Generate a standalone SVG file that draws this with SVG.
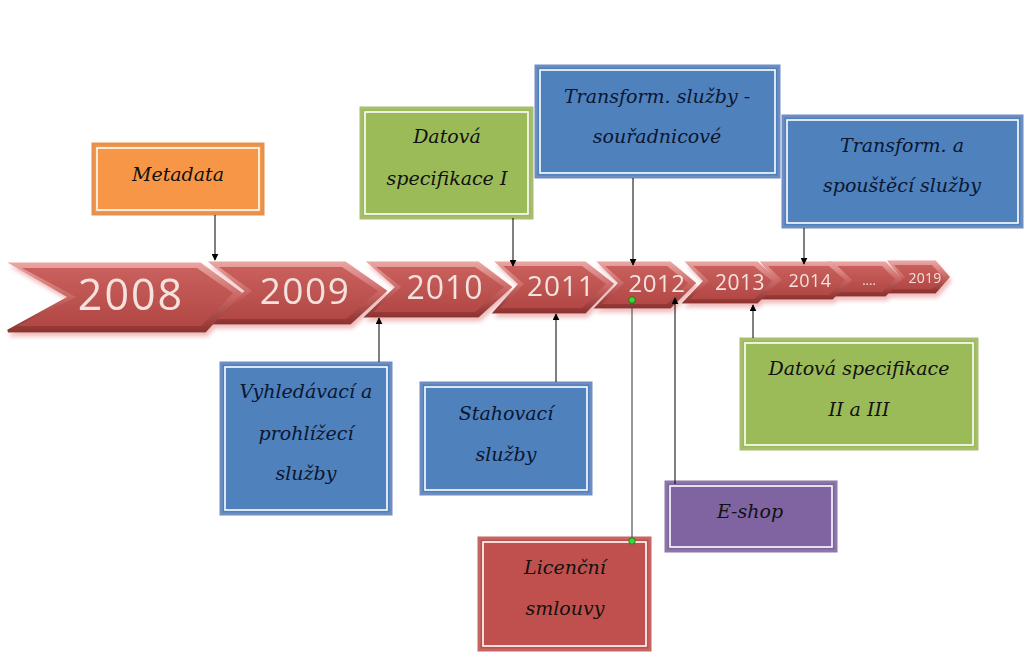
<svg xmlns="http://www.w3.org/2000/svg" width="1024" height="653" viewBox="0 0 1024 653">
<defs>
<linearGradient id="chev" x1="0" y1="0" x2="0" y2="1">
<stop offset="0" stop-color="#C9605D"/>
<stop offset="1" stop-color="#B24845"/>
</linearGradient>
<linearGradient id="bevel" x1="0" y1="0" x2="0" y2="1">
<stop offset="0" stop-color="#E9A3A1"/>
<stop offset="0.5" stop-color="#C96562"/>
<stop offset="1" stop-color="#8E3331"/>
</linearGradient>
<marker id="arr" viewBox="0 0 10 10" refX="9" refY="5" markerWidth="7" markerHeight="7" orient="auto" markerUnits="userSpaceOnUse">
<path d="M0,0 L10,5 L0,10 z" fill="#000"/>
</marker>
<filter id="sh" x="-10%" y="-20%" width="130%" height="160%">
<feGaussianBlur in="SourceAlpha" stdDeviation="2"/>
<feOffset dx="2" dy="4" result="b"/>
<feFlood flood-color="#E8A0A0" flood-opacity="0.7"/>
<feComposite in2="b" operator="in"/>
<feMerge><feMergeNode/><feMergeNode in="SourceGraphic"/></feMerge>
</filter>
</defs>
<style>
.outer{stroke:url(#bevel);stroke-width:3;fill:url(#bevel)}
.inner{fill:url(#chev)}
.yr{font-family:"Open Sans","Liberation Sans",sans-serif;fill:#F4E2DF;text-anchor:middle}
.box{stroke-width:3}
.inl{fill:none;stroke:#FFFFFF;stroke-width:1.6}
.lbl{font-family:"DejaVu Serif","Liberation Serif",serif;font-style:italic;font-size:19px;text-anchor:middle;fill:#111111}
.lblb{fill:#0B1630}
.con{stroke:#000;stroke-width:1;fill:none}
</style>
<rect width="1024" height="653" fill="#FFFFFF"/>

<g id="timeline" filter="url(#sh)">
<g id="y2019">
<polygon class="outer" points="890,262 935,262 948,277 935,292 888,292 902,277"/>
<polygon class="inner" points="894,265 932,265 943,277 932,289 893,289 905,277"/>
<text class="yr" x="925" y="283" font-size="14" letter-spacing="0.3">2019</text>
</g>
<g id="ydots">
<polygon class="outer" points="830,263 885,263 900,279 885,295 828,295 843,279"/>
<polygon class="inner" points="835,266 882,266 895,279 882,292 833,292 847,279"/>
<text class="yr" x="869" y="285" font-size="13">....</text>
</g>
<g id="y2014">
<polygon class="outer" points="763,263 832,263 850,280 832,298 760,298 778,280"/>
<polygon class="inner" points="768,266 829,266 845,280 829,295 765,295 782,280"/>
<text class="yr" x="810" y="287" font-size="18" letter-spacing="0.5">2014</text>
</g>
<g id="y2013">
<polygon class="outer" points="688,263 757,263 777,281 757,302 685,302 705,281"/>
<polygon class="inner" points="693,266 754,266 772,281 754,299 690,299 709,281"/>
<text class="yr" x="740" y="290" font-size="21" letter-spacing="0.5">2013</text>
</g>
<g id="y2012">
<polygon class="outer" points="600,263 670,263 694,283 670,307 597,307 620,283"/>
<polygon class="inner" points="605,266 667,266 688,283 667,304 602,304 624,283"/>
<text class="yr" x="657" y="292" font-size="24" letter-spacing="0.5">2012</text>
</g>
<g id="y2011">
<polygon class="outer" points="498,263 585,263 612,284 585,312 495,312 520,284"/>
<polygon class="inner" points="503,266 582,266 606,284 582,308 500,308 524,284"/>
<text class="yr" x="561" y="296" font-size="28" letter-spacing="1">2011</text>
</g>
<g id="y2010">
<polygon class="outer" points="370,263 478,263 510,287 478,316 367,316 397,287"/>
<polygon class="inner" points="376,267 475,267 504,287 475,312 373,312 401,287"/>
<text class="yr" x="445" y="299" font-size="32" letter-spacing="1">2010</text>
</g>
<g id="y2009">
<polygon class="outer" points="212,263 345,263 385,291 350,323 209,323 247,291"/>
<polygon class="inner" points="219,267 342,267 378,291 346,319 216,319 252,291"/>
<text class="yr" x="305" y="304" font-size="37" letter-spacing="1.5">2009</text>
</g>
<g id="y2008">
<polygon class="outer" points="13,264 200,264 240,293 205,331 8,331 70,297"/>
<polygon class="inner" points="22,268 197,268 233,293 201,326 17,326 76,297"/>
<text class="yr" x="131" y="310" font-size="43" letter-spacing="2">2008</text>
</g>
</g>

<g id="metadata">
<rect class="box" x="93" y="144" width="170" height="70" fill="#F79646" stroke="#E4904F"/>
<rect class="inl" x="97" y="148" width="162" height="62"/>
<text class="lbl" x="178" y="181">Metadata</text>
</g>

<g id="datova1">
<rect class="box" x="361" y="108" width="171" height="110" fill="#9BBB59" stroke="#A8BE6E"/>
<rect class="inl" x="365" y="112" width="163" height="102"/>
<text class="lbl" x="447" y="143">Datová</text>
<text class="lbl" x="447" y="185">specifikace I</text>
</g>

<g id="transform1">
<rect class="box" x="536" y="66" width="243" height="111" fill="#4F81BD" stroke="#6E8DC2"/>
<rect class="inl" x="540" y="70" width="235" height="103"/>
<text class="lbl lblb" x="657" y="103">Transform. služby -</text>
<text class="lbl lblb" x="657" y="143">souřadnicové</text>
</g>

<g id="transform2">
<rect class="box" x="783" y="116" width="239" height="111" fill="#4F81BD" stroke="#6E8DC2"/>
<rect class="inl" x="787" y="120" width="231" height="103"/>
<text class="lbl lblb" x="902" y="152">Transform. a</text>
<text class="lbl lblb" x="902" y="192">spouštěcí služby</text>
</g>

<g id="vyhledavaci">
<rect class="box" x="221" y="363" width="170" height="151" fill="#4F81BD" stroke="#6E8DC2"/>
<rect class="inl" x="225" y="367" width="162" height="143"/>
<text class="lbl lblb" x="306" y="398">Vyhledávací a</text>
<text class="lbl lblb" x="306" y="440">prohlížecí</text>
<text class="lbl lblb" x="306" y="480">služby</text>
</g>

<g id="stahovaci">
<rect class="box" x="421" y="383" width="170" height="111" fill="#4F81BD" stroke="#6E8DC2"/>
<rect class="inl" x="425" y="387" width="162" height="103"/>
<text class="lbl lblb" x="506" y="420">Stahovací</text>
<text class="lbl lblb" x="506" y="461">služby</text>
</g>

<g id="datova2">
<rect class="box" x="741" y="339" width="236" height="110" fill="#9BBB59" stroke="#A8BE6E"/>
<rect class="inl" x="745" y="343" width="228" height="102"/>
<text class="lbl" x="859" y="375">Datová specifikace</text>
<text class="lbl" x="859" y="416">II a III</text>
</g>

<g id="eshop">
<rect class="box" x="666" y="482" width="170" height="69" fill="#8064A2" stroke="#8D76A8"/>
<rect class="inl" x="670" y="486" width="162" height="61"/>
<text class="lbl" x="750" y="518" fill="#1A1030">E-shop</text>
</g>

<g id="licencni">
<rect class="box" x="479" y="538" width="171" height="112" fill="#C0504D" stroke="#C66663"/>
<rect class="inl" x="483" y="542" width="163" height="104"/>
<text class="lbl" x="565" y="574" fill="#2A0E0E">Licenční</text>
<text class="lbl" x="565" y="615" fill="#2A0E0E">smlouvy</text>
</g>

<g id="connectors">
<line class="con" x1="215" y1="215" x2="215" y2="260" marker-end="url(#arr)"/>
<line class="con" x1="513" y1="218" x2="513" y2="266" marker-end="url(#arr)"/>
<line class="con" x1="633" y1="178" x2="633" y2="265" marker-end="url(#arr)"/>
<line class="con" x1="804" y1="228" x2="804" y2="264" marker-end="url(#arr)"/>
<line class="con" x1="379" y1="362" x2="379" y2="318" marker-end="url(#arr)"/>
<line class="con" x1="556" y1="382" x2="556" y2="314" marker-end="url(#arr)"/>
<line class="con" x1="753" y1="338" x2="753" y2="305" marker-end="url(#arr)"/>
<line class="con" x1="675" y1="484" x2="675" y2="298" marker-end="url(#arr)"/>
<line x1="632" y1="541" x2="632" y2="300" stroke="#555" stroke-width="1.2"/>
<circle cx="632" cy="300" r="3.2" fill="#33DD33" stroke="#1B6E1B" stroke-width="0.8"/>
<circle cx="632" cy="541" r="3.2" fill="#33DD33" stroke="#1B6E1B" stroke-width="0.8"/>
</g>
</svg>
